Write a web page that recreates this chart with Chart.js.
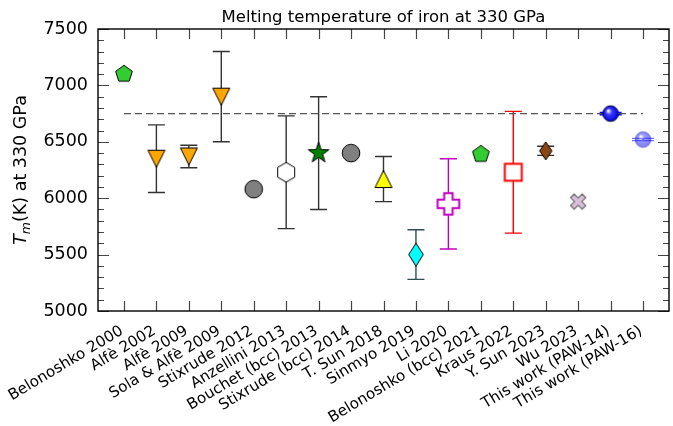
<!DOCTYPE html>
<html>
<head>
<meta charset="utf-8">
<script src="https://cdn.jsdelivr.net/npm/chart.js@4.4.0/dist/chart.umd.min.js"></script>
<style>
    html, body { margin: 0; padding: 0; background: #fff; overflow: hidden; }
    #wrap { width: 680px; height: 426px; }
</style>
</head>
<body>
<div id="wrap"><canvas id="melting"></canvas></div>
<script>
// data
const studies = [
    'Belonoshko 2000', 'Alfè 2002', 'Alfè 2009', 'Sola & Alfè 2009', 'Stixrude 2012',
    'Anzellini 2013', 'Bouchet (bcc) 2013', 'Stixrude (bcc) 2014', 'T. Sun 2018', 'Sinmyo 2019',
    'Li 2020', 'Belonoshko (bcc) 2021', 'Kraus 2022', 'Y. Sun 2023', 'Wu 2023',
    'This work (PAW-14)', 'This work (PAW-16)'
];
const tmValues = [7100, 6350, 6370, 6900, 6080, 6230, 6400, 6400, 6170, 5500, 5950, 6390, 6230, 6420, 5970, 6750, 6520];
const errLow   = [null, 6050, 6270, 6500, null, 5730, 5900, null, 5970, 5280, 5550, null, 5690, 6380, null, 6740, 6510];
const errHigh  = [null, 6650, 6470, 7300, null, 6730, 6900, null, 6370, 5720, 6350, null, 6770, 6460, null, 6760, 6530];
const refLine = 6750;
const yTicks = [5000, 5500, 6000, 6500, 7000, 7500];
const titleText = 'Melting temperature of iron at 330 GPa';

// styles
const errColors = ['#333', '#333', '#333', '#333', '#333', '#333', '#333', '#333', '#333', '#2f4f4f',
    '#c000c0', '#333', '#ff0000', '#333', '#333', '#0000ff', '#7070ff'];
const FONT = "'DejaVu Sans', sans-serif";

function markerCanvas(draw) {
    const c = document.createElement('canvas');
    c.width = 32;
    c.height = 32;
    const ctx = c.getContext('2d');
    ctx.translate(16, 16);
    ctx.lineJoin = 'miter';
    draw(ctx);
    return c;
}

function regular(ctx, n, r, rot) {
    ctx.beginPath();
    for (let i = 0; i < n; i++) {
        const a = rot + i * 2 * Math.PI / n;
        ctx.lineTo(r * Math.cos(a), r * Math.sin(a));
    }
    ctx.closePath();
}

function fillStroke(ctx, fill, stroke, lw) {
    ctx.fillStyle = fill;
    ctx.fill();
    ctx.strokeStyle = stroke;
    ctx.lineWidth = lw;
    ctx.stroke();
}

const pentagon = markerCanvas(ctx => { regular(ctx, 5, 8.8, -Math.PI / 2); fillStroke(ctx, '#32cd32', '#000', 1); });
const triDown = markerCanvas(ctx => {
    ctx.beginPath(); ctx.moveTo(0, 8.5); ctx.lineTo(-8.5, -8.5); ctx.lineTo(8.5, -8.5); ctx.closePath();
    fillStroke(ctx, '#ffa500', '#000', 1);
});
const triUp = markerCanvas(ctx => {
    ctx.beginPath(); ctx.moveTo(0, -8.5); ctx.lineTo(-8.5, 8.5); ctx.lineTo(8.5, 8.5); ctx.closePath();
    fillStroke(ctx, '#ffff00', '#000', 1);
});
const greyCircle = markerCanvas(ctx => { ctx.beginPath(); ctx.arc(0, 0, 8.8, 0, Math.PI * 2); fillStroke(ctx, '#808080', '#000', 1); });
const hexagon = markerCanvas(ctx => { regular(ctx, 6, 9.8, -Math.PI / 2); fillStroke(ctx, '#fff', '#000', 1); });
const star = markerCanvas(ctx => {
    ctx.beginPath();
    for (let i = 0; i < 10; i++) {
        const r = i % 2 === 0 ? 10.8 : 4.3;
        const a = -Math.PI / 2 + i * Math.PI / 5;
        ctx.lineTo(r * Math.cos(a), r * Math.sin(a));
    }
    ctx.closePath();
    fillStroke(ctx, '#008000', '#000', 1);
});
function diamond(w, h, fill) {
    return markerCanvas(ctx => {
        ctx.beginPath(); ctx.moveTo(0, -h); ctx.lineTo(w, 0); ctx.lineTo(0, h); ctx.lineTo(-w, 0); ctx.closePath();
        fillStroke(ctx, fill, '#000', 1);
    });
}
function plusPath(ctx, L, w) {
    ctx.beginPath();
    ctx.moveTo(-w, -L); ctx.lineTo(w, -L); ctx.lineTo(w, -w); ctx.lineTo(L, -w); ctx.lineTo(L, w);
    ctx.lineTo(w, w); ctx.lineTo(w, L); ctx.lineTo(-w, L); ctx.lineTo(-w, w); ctx.lineTo(-L, w);
    ctx.lineTo(-L, -w); ctx.lineTo(-w, -w);
    ctx.closePath();
}
const plus = markerCanvas(ctx => { plusPath(ctx, 10.8, 4.2); fillStroke(ctx, '#fff', '#c000c0', 2); });
const xMark = markerCanvas(ctx => { ctx.rotate(Math.PI / 4); plusPath(ctx, 8.2, 2.6); fillStroke(ctx, '#d8bfd8', '#555', 1); });
const square = markerCanvas(ctx => { ctx.beginPath(); ctx.rect(-8.5, -8.5, 17, 17); fillStroke(ctx, '#fff', '#ff0000', 2); });
function sphere(alpha) {
    return markerCanvas(ctx => {
        ctx.globalAlpha = alpha;
        const g = ctx.createRadialGradient(-2.5, -3, 0.5, 0, 0, 8);
        g.addColorStop(0, '#ffffff');
        g.addColorStop(0.35, '#3a3aff');
        g.addColorStop(1, '#0000e0');
        ctx.beginPath(); ctx.arc(0, 0, 7.8, 0, Math.PI * 2);
        fillStroke(ctx, g, alpha < 1 ? '#3030c0' : '#000040', 1);
    });
}

const markers = [pentagon, triDown, triDown, triDown, greyCircle, hexagon, star, greyCircle, triUp,
    diamond(7.3, 11.5, '#00ffff'), plus, pentagon, square, diamond(6.2, 9, '#8b4513'), xMark, sphere(1), sphere(0.5)];

const errorBars = {
    id: 'errorBars',
    beforeDatasetsDraw(chart) {
        const {ctx, scales: {x, y}} = chart;
        ctx.save();
        studies.forEach((_, i) => {
            if (errLow[i] === null) return;
            const px = x.getPixelForValue(i);
            const lo = y.getPixelForValue(errLow[i]);
            const hi = y.getPixelForValue(errHigh[i]);
            const cap = i >= 15 ? 11 : 8.5;
            ctx.strokeStyle = errColors[i];
            ctx.lineWidth = 1.4;
            ctx.beginPath();
            ctx.moveTo(px, lo); ctx.lineTo(px, hi);
            ctx.moveTo(px - cap, lo); ctx.lineTo(px + cap, lo);
            ctx.moveTo(px - cap, hi); ctx.lineTo(px + cap, hi);
            ctx.stroke();
        });
        ctx.restore();
    }
};

const frame = {
    id: 'frame',
    afterDraw(chart) {
        const {ctx, chartArea: a, scales: {x, y}} = chart;
        ctx.save();
        ctx.strokeStyle = '#444';
        ctx.lineWidth = 1.2;
        ctx.beginPath();
        studies.forEach((_, i) => {
            const px = Math.round(x.getPixelForValue(i)) + 0.5;
            ctx.moveTo(px, a.bottom); ctx.lineTo(px, a.bottom - 10);
            ctx.moveTo(px, a.top); ctx.lineTo(px, a.top + 10);
        });
        for (let v = 5000; v <= 7500; v += 100) {
            const py = Math.round(y.getPixelForValue(v)) + 0.5;
            const len = v % 500 === 0 ? 11 : 6;
            ctx.moveTo(a.left, py); ctx.lineTo(a.left + len, py);
            ctx.moveTo(a.right, py); ctx.lineTo(a.right - len, py);
        }
        ctx.stroke();
        ctx.strokeStyle = '#000';
        ctx.lineWidth = 1.4;
        ctx.strokeRect(a.left, a.top, a.right - a.left, a.bottom - a.top);

        // title centred over the plot area
        ctx.fillStyle = '#000';
        ctx.font = '16.5px ' + FONT;
        ctx.textAlign = 'center';
        ctx.textBaseline = 'alphabetic';
        ctx.fillText(titleText, (a.left + a.right) / 2, 22);

        // y axis title: T_m(K) at 330 GPa
        ctx.textAlign = 'left';
        const cy = (a.top + a.bottom) / 2;
        ctx.translate(26, cy);
        ctx.rotate(-Math.PI / 2);
        const big = '17.5px ' + FONT, small = 'italic 12.5px ' + FONT, ital = 'italic 17.5px ' + FONT;
        ctx.font = ital; const wT = ctx.measureText('T').width;
        ctx.font = small; const wm = ctx.measureText('m').width;
        ctx.font = big; const rest = '(K) at 330 GPa'; const wr = ctx.measureText(rest).width;
        let tx = -(wT + wm + wr) / 2;
        ctx.font = ital; ctx.fillText('T', tx, 0); tx += wT;
        ctx.font = small; ctx.fillText('m', tx, 4); tx += wm;
        ctx.font = big; ctx.fillText(rest, tx, 0);
        ctx.restore();
    }
};

new Chart(document.getElementById('melting'), {
    type: 'scatter',
    data: {
        datasets: [
            {
                label: 'Tm',
                data: tmValues.map((v, i) => ({x: i, y: v})),
                pointStyle: markers,
                pointRadius: 10,
                showLine: false
            },
            {
                label: 'reference',
                type: 'line',
                data: [{x: 0, y: refLine}, {x: studies.length - 1, y: refLine}],
                borderColor: '#555',
                borderWidth: 1.3,
                borderDash: [7, 4],
                pointRadius: 0,
                fill: false
            }
        ]
    },
    options: {
        responsive: true,
        maintainAspectRatio: false,
        animation: false,
        layout: { padding: { left: 0, right: 6, top: 29, bottom: 0 } },
        plugins: {
            legend: { display: false },
            tooltip: { enabled: false },
            title: { display: false }
        },
        scales: {
            x: {
                type: 'linear',
                min: -0.8,
                max: 16.8,
                grid: { display: false, drawTicks: false },
                border: { display: false },
                afterBuildTicks: scale => { scale.ticks = studies.map((_, i) => ({value: i})); },
                afterFit: scale => {
                    scale.height = 115;
                    scale.paddingLeft = 0;
                    scale.paddingRight = 0;
                },
                ticks: {
                    autoSkip: false,
                    minRotation: 31,
                    maxRotation: 31,
                    padding: 11,
                    labelOffset: -2,
                    color: '#000',
                    font: { family: FONT, size: 15.2 },
                    callback: v => studies[v]
                }
            },
            y: {
                min: 5000,
                max: 7500,
                grid: { display: false, drawTicks: false },
                border: { display: false },
                afterBuildTicks: scale => { scale.ticks = yTicks.map(v => ({value: v})); },
                afterFit: scale => { scale.width = 98; },
                ticks: {
                    padding: 10,
                    color: '#000',
                    font: { family: FONT, size: 17.5 },
                    callback: v => String(v)
                }
            }
        }
    },
    plugins: [errorBars, frame]
});
</script>
</body>
</html>
